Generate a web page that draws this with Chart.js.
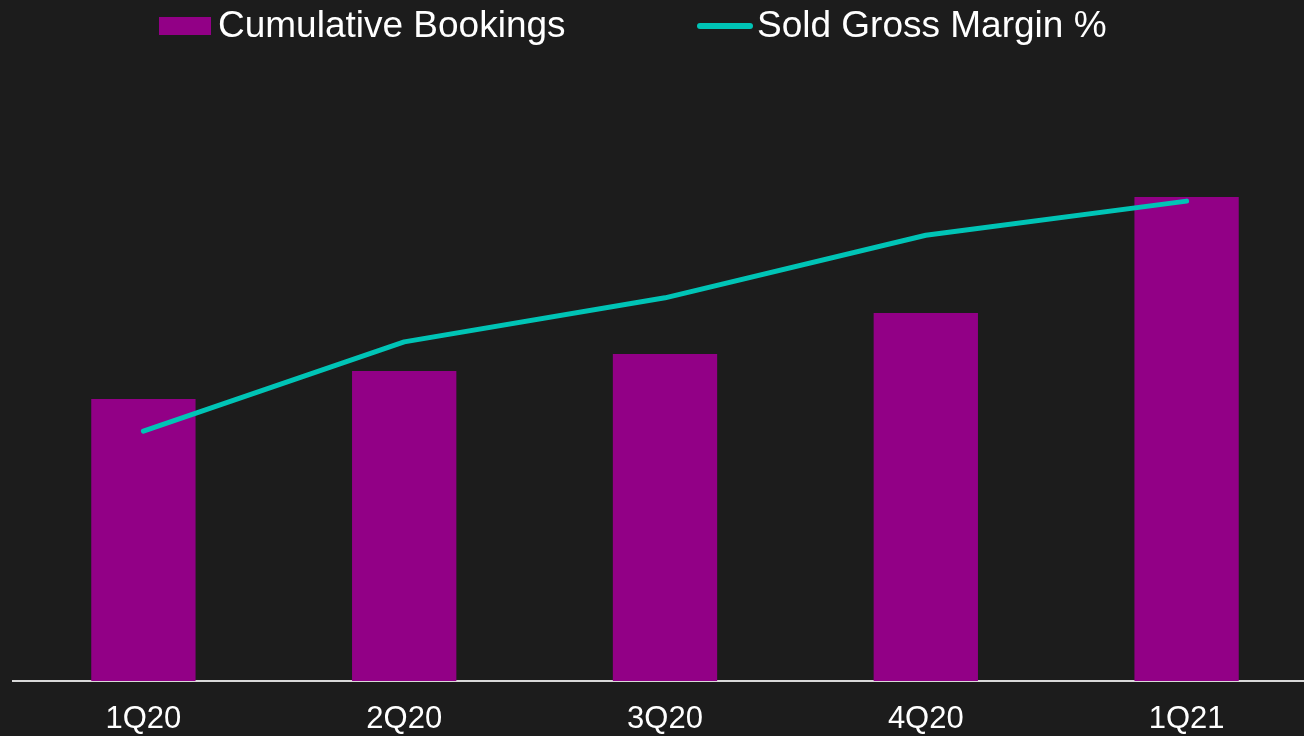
<!DOCTYPE html>
<html>
<head>
<meta charset="utf-8">
<script src="https://cdn.jsdelivr.net/npm/chart.js@4.4.0/dist/chart.umd.min.js"></script>
<style>
  html, body { margin: 0; padding: 0; background: #1c1c1c; overflow: hidden; width: 1304px; height: 736px; }
  #wrap { position: absolute; left: 0; top: 0; width: 1318px; height: 736px; }
  .leg { position: absolute; top: 3px; font-family: "Liberation Sans", Arial, sans-serif; font-size: 37px; color: #ffffff; line-height: 44px; white-space: nowrap; }
  .sw { position: absolute; }
</style>
</head>
<body>
<div id="wrap"><canvas id="c" width="1318" height="736"></canvas></div>
<div class="sw" style="left:159px; top:17px; width:52px; height:18px; background:#920086;"></div>
<div class="leg" style="left:218px;">Cumulative Bookings</div>
<div class="sw" style="left:697px; top:23px; width:56px; height:6px; border-radius:3px; background:#00c4b6;"></div>
<div class="leg" style="left:757px;">Sold Gross Margin %</div>
<script>
const categories = ["1Q20", "2Q20", "3Q20", "4Q20", "1Q21"];
const cumulativeBookings = [5.64, 6.2, 6.54, 7.36, 9.68];
const soldGrossMargin = [40.3, 54.7, 61.8, 71.9, 77.4];

new Chart(document.getElementById('c'), {
  data: {
    labels: categories,
    datasets: [
      {
        type: 'line',
        label: 'Sold Gross Margin %',
        data: soldGrossMargin,
        yAxisID: 'y1',
        borderColor: '#00c4b6',
        borderWidth: 5,
        borderCapStyle: 'round',
        borderJoinStyle: 'round',
        pointRadius: 0,
        tension: 0,
        order: 0
      },
      {
        type: 'bar',
        label: 'Cumulative Bookings',
        data: cumulativeBookings,
        yAxisID: 'y',
        backgroundColor: '#920086',
        barPercentage: 0.4,
        categoryPercentage: 1.0,
        order: 1
      }
    ]
  },
  options: {
    responsive: false,
    animation: false,
    layout: { padding: { left: 13, right: 1, top: 61, bottom: 0 } },
    plugins: { legend: { display: false }, tooltip: { enabled: false } },
    scales: {
      x: {
        offset: true,
        grid: { display: false },
        border: { display: true, color: '#d9d9d9', width: 2 },
        ticks: { color: '#ffffff', font: { family: '"Liberation Sans", Arial, sans-serif', size: 31 }, padding: 12 },
        afterFit: (scale) => { scale.height = 55; }
      },
      y: { display: false, min: 0, max: 12.4 },
      y1: { display: false, min: 0, max: 100, position: 'right' }
    }
  }
});
</script>
</body>
</html>
